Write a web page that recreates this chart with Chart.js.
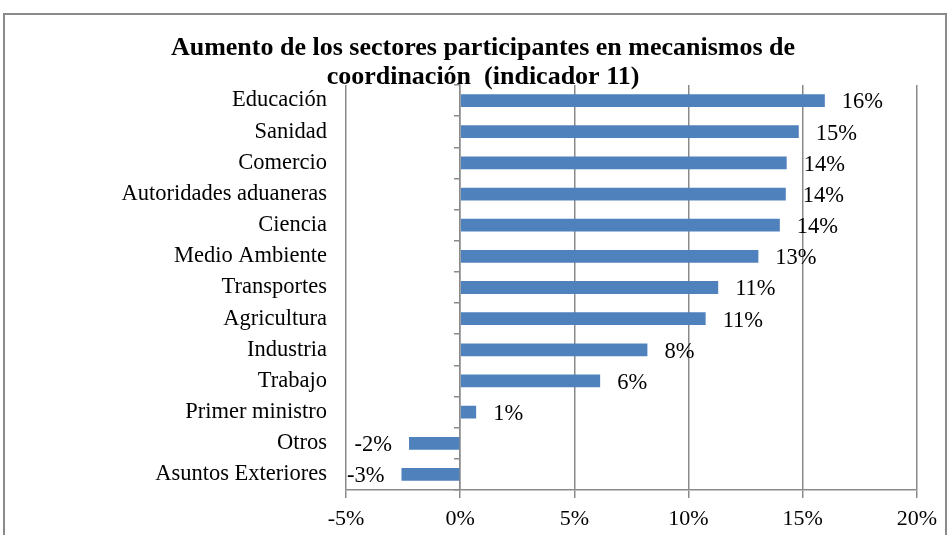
<!DOCTYPE html>
<html>
<head>
<meta charset="utf-8">
<script src="https://cdn.jsdelivr.net/npm/chart.js@4"></script>
<style>
  html, body { margin: 0; padding: 0; background: #fff; }
  #wrap { position: relative; width: 947px; height: 535px; overflow: hidden; }
  #frame { position: absolute; left: 3px; top: 13px; width: 940px; height: 600px;
           border: 2px solid #8a8a8a; pointer-events: none; }
  canvas { position: absolute; left: 0; top: 0; }
</style>
</head>
<body>
<div id="wrap">
  <canvas id="chart" width="947" height="535"></canvas>
  <div id="frame"></div>
</div>
<script>
const sectors = [
  "Educación", "Sanidad", "Comercio", "Autoridades aduaneras", "Ciencia",
  "Medio Ambiente", "Transportes", "Agricultura", "Industria", "Trabajo",
  "Primer ministro", "Otros", "Asuntos Exteriores"
];
const increase = [15.97, 14.83, 14.3, 14.26, 14.0, 13.06, 11.3, 10.75, 8.2, 6.13, 0.7, -2.24, -2.57];
const xTicks = [-5, 0, 5, 10, 15, 20];

const serif = "'Liberation Serif', 'Times New Roman', serif";
const gridGray = '#8a8a8a';

// value labels next to the bar ends
const valueLabels = {
  id: 'valueLabels',
  afterDatasetsDraw(chart) {
    const ctx = chart.ctx;
    const meta = chart.getDatasetMeta(0);
    ctx.save();
    ctx.font = "22.5px " + serif;
    ctx.fillStyle = '#000';
    ctx.textBaseline = 'middle';
    meta.data.forEach((bar, i) => {
      const v = increase[i];
      const txt = Math.round(v) + '%';
      if (v >= 0) {
        ctx.textAlign = 'left';
        ctx.fillText(txt, bar.x + 17, bar.y + 2);
      } else {
        ctx.textAlign = 'right';
        ctx.fillText(txt, bar.x - 17, bar.y + 2);
      }
    });
    ctx.restore();
  }
};

new Chart(document.getElementById('chart'), {
  type: 'bar',
  data: {
    labels: sectors,
    datasets: [{
      data: increase,
      backgroundColor: '#4f81bd',
      barPercentage: 0.41,
      categoryPercentage: 1
    }]
  },
  options: {
    indexAxis: 'y',
    responsive: false,
    animation: false,
    layout: { padding: { left: 47, right: 28, top: 0, bottom: -5 } },
    plugins: {
      legend: { display: false },
      tooltip: { enabled: false },
      title: {
        display: true,
        text: ["Aumento de los sectores participantes en mecanismos de", "coordinación  (indicador 11)"],
        color: '#000',
        font: { family: serif, size: 26, weight: 'bold', lineHeight: 1.115 },
        padding: { top: 33.5, bottom: -6.5 }
      }
    },
    scales: {
      x: {
        min: -5,
        max: 20,
        afterBuildTicks: scale => { scale.ticks = xTicks.map(v => ({ value: v })); },
        ticks: {
          color: '#000',
          font: { family: serif, size: 22, lineHeight: 1 },
          padding: 10,
          callback: v => v + '%'
        },
        grid: { color: gridGray, lineWidth: 1.5, tickLength: 8 },
        border: { color: gridGray, width: 1.5 }
      },
      y: {
        afterFit: scale => { scale.width = 299; },
        ticks: { color: '#000', font: { family: serif, size: 22.5 }, padding: 19 },
        grid: { display: false, drawTicks: false },
        border: { display: false }
      },
      y2: {
        type: 'category',
        axis: 'y',
        position: { x: 0 },
        offset: true,
        ticks: { display: false },
        grid: { offset: true, drawOnChartArea: false, tickLength: 5, color: gridGray, lineWidth: 1.5 },
        border: { display: true, color: gridGray, width: 1.5 }
      }
    }
  },
  plugins: [valueLabels]
});
</script>
</body>
</html>
